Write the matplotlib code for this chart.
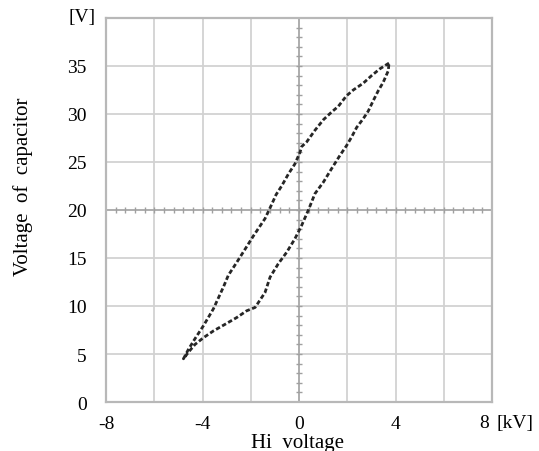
import numpy as np
import matplotlib
matplotlib.use("Agg")
import matplotlib.pyplot as plt

# upper branch: from the positive tip down to the negative tip
upper_kv = [3.73, 3.35, 3.01, 2.66, 2.25, 1.97, 1.63, 1.35, 1.01, 0.66, 0.32, 0.11,
            0.04, -0.17, -0.44, -0.72, -0.95, -1.13, -1.41, -1.89, -2.24, -2.58,
            -2.93, -3.13, -3.55, -3.96, -4.31, -4.58, -4.79]
upper_v = [35.3, 34.7, 34.0, 33.2, 32.5, 31.9, 30.8, 30.2, 29.4, 28.3, 27.1, 26.6,
           26.0, 24.8, 23.75, 22.5, 21.6, 20.6, 19.1, 17.3, 15.9, 14.55,
           13.2, 12.0, 9.7, 7.95, 6.6, 5.5, 4.5]
# lower branch: from the negative tip back up to the positive tip
lower_kv = [-4.79, -4.58, -4.31, -3.96, -3.55, -3.06, -2.58, -2.17, -1.82, -1.41,
            -1.2, -0.86, -0.51, -0.17, 0.11, 0.39, 0.66, 1.01, 1.35, 1.70, 1.97,
            2.18, 2.39, 2.66, 2.87, 3.08, 3.28, 3.49, 3.70, 3.73]
lower_v = [4.5, 5.2, 6.0, 6.7, 7.4, 8.1, 8.8, 9.5, 9.85, 11.4,
           13.0, 14.4, 15.6, 17.0, 18.4, 20.0, 21.7, 22.9, 24.3, 25.7, 26.7,
           27.6, 28.6, 29.5, 30.3, 31.4, 32.4, 33.3, 34.5, 35.3]

x_ticks = [-8, -4, 0, 4]
y_ticks = [0, 5, 10, 15, 20, 25, 30, 35]

plt.rcParams["font.family"] = ["Liberation Serif", "DejaVu Serif"]

fig = plt.figure(figsize=(5.39, 4.52), dpi=100)
ax = fig.add_axes([0.1967, 0.1084, 0.7161, 0.8496])
ax.set_xlim(-8, 8)
ax.set_ylim(0, 40)

# scope graticule
for gx in np.arange(-6, 8, 2):
    ax.axvline(gx, color="#d2d2d2", lw=1.3, zorder=1)
for gy in np.arange(5, 40, 5):
    ax.axhline(gy, color="#d2d2d2", lw=1.3, zorder=1)
ax.axvline(0, color="#a8a8a8", lw=1.2, zorder=1)
ax.axhline(20, color="#a8a8a8", lw=1.2, zorder=1)
mx = np.arange(-7.6, 8, 0.4)
ax.plot(mx, np.full_like(mx, 20), ls="none", marker="|", ms=5, mew=1, color="#a0a0a0", zorder=1)
my = np.arange(1, 40, 1)
ax.plot(np.zeros_like(my), my, ls="none", marker="_", ms=5, mew=1, color="#a0a0a0", zorder=1)

for s in ax.spines.values():
    s.set_color("#b8b8b8")
    s.set_linewidth(1.6)

xs = upper_kv + lower_kv
ys = upper_v + lower_v
ax.plot(xs, ys, color="#262626", lw=2.0, ls=(0, (1.6, 0.9)), zorder=3)

ax.set_xticks(x_ticks)
ax.set_xticklabels([str(t) for t in x_ticks], fontsize=14)
ax.set_yticks(y_ticks)
ax.set_yticklabels([str(t) for t in y_ticks], fontsize=14)
ax.tick_params(length=0)
ax.tick_params(axis="x", pad=9)
ax.tick_params(axis="y", pad=14)

ax.text(7.66, -0.03, "8", transform=ax.get_xaxis_transform(), ha="center", va="top", fontsize=14)
ax.text(8.2, -0.03, "[kV]", transform=ax.get_xaxis_transform(), ha="left", va="top", fontsize=14)
ax.text(-0.028, 1.005, "[V]", transform=ax.transAxes, ha="right", va="center", fontsize=14)

ax.set_xlabel("Hi  voltage", fontsize=15)
ax.xaxis.set_label_coords(0.495, -0.08)
ax.set_ylabel("Voltage  of  capacitor", fontsize=15)
ax.yaxis.set_label_coords(-0.19, 0.5625)

fig.savefig("out.png", dpi=100)
